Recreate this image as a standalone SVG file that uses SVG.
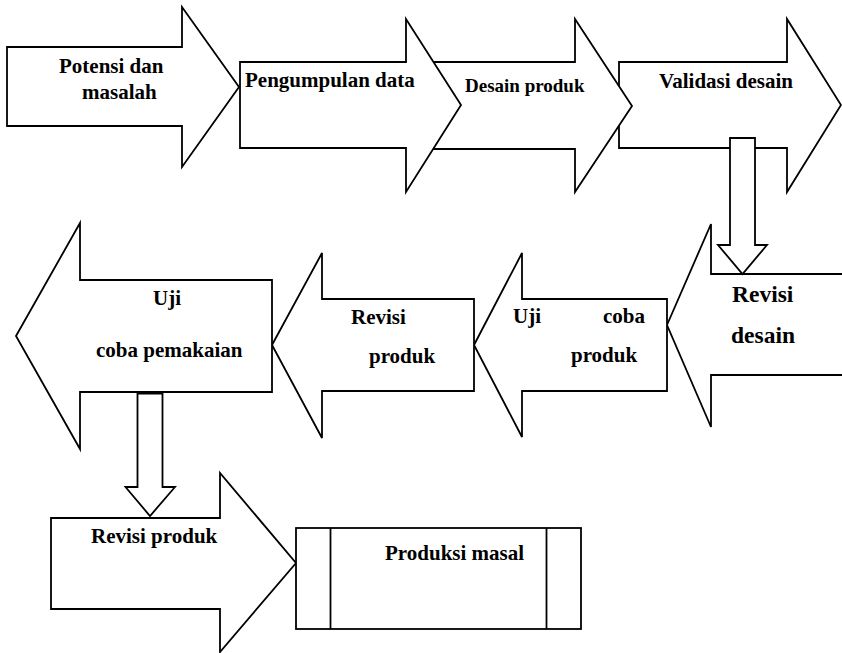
<svg xmlns="http://www.w3.org/2000/svg" width="842" height="653" viewBox="0 0 842 653">
<style>
.s{fill:#fff;stroke:#000;stroke-width:1.8;stroke-linejoin:miter}
.l{fill:none;stroke:#000;stroke-width:1.8}
text{font-family:"Liberation Serif","Times New Roman",serif;font-weight:bold;font-size:21px;fill:#000}
</style>
<rect width="842" height="653" fill="#fff"/>
<g id="validasi">
<polygon class="s" points="619,62 787,62 787,19 841,105 787,192 787,148 619,148"/>
<text x="659" y="88">Validasi desain</text>
</g>
<g id="desain">
<polygon class="s" points="420,62 575,62 575,19 632,106 575,192 575,149 420,149"/>
<text x="465" y="92" style="font-size:19px">Desain produk</text>
</g>
<g id="pengumpulan">
<polygon class="s" points="240,62 406,62 406,19 461,105 406,192 406,148 240,148"/>
<text x="245" y="87">Pengumpulan data</text>
</g>
<g id="potensi">
<polygon class="s" points="7,47 182,47 182,7 239,87 182,167 182,126 7,126"/>
<text x="59" y="73">Potensi dan</text>
<text x="82" y="99">masalah</text>
</g>
<g id="revisi-desain">
<polygon class="s" points="667,325 711,224 711,274 850,274 850,375 711,375 711,427"/>
<text x="732" y="302" style="font-size:23.5px">Revisi</text>
<text x="731" y="343" style="font-size:23.5px">desain</text>
</g>
<g id="uji-coba-produk">
<polygon class="s" points="474,345 522,253 522,299 667,299 667,391 522,391 522,437"/>
<text x="513" y="323">Uji</text>
<text x="603" y="323">coba</text>
<text x="571" y="362">produk</text>
</g>
<g id="revisi-produk-1">
<polygon class="s" points="272,345 322,253 322,299 474,299 474,391 322,391 322,438"/>
<text x="351" y="324">Revisi</text>
<text x="369" y="363">produk</text>
</g>
<g id="uji-coba-pemakaian">
<polygon class="s" points="16,336 80,223 80,280 272,280 272,392 80,392 80,449"/>
<text x="153" y="305">Uji</text>
<text x="96" y="357">coba pemakaian</text>
</g>
<g id="revisi-produk-2">
<polygon class="s" points="51,518 220,518 220,473 296,563 220,652 220,609 51,609"/>
<text x="91" y="543">Revisi produk</text>
</g>
<g id="produksi-masal">
<rect class="s" x="296" y="528" width="285" height="101"/>
<line class="l" x1="330.5" y1="528" x2="330.5" y2="629"/>
<line class="l" x1="546.5" y1="528" x2="546.5" y2="629"/>
<text x="385" y="560">Produksi masal</text>
</g>
<g id="connectors">
<polygon class="s" points="730,138 755,138 755,245 767,245 742.5,274 718,245 730,245"/>
<polygon class="s" points="137.5,393.5 162.5,393.5 162.5,487 175,487 150,516 125.5,487 137.5,487"/>
</g>
</svg>
